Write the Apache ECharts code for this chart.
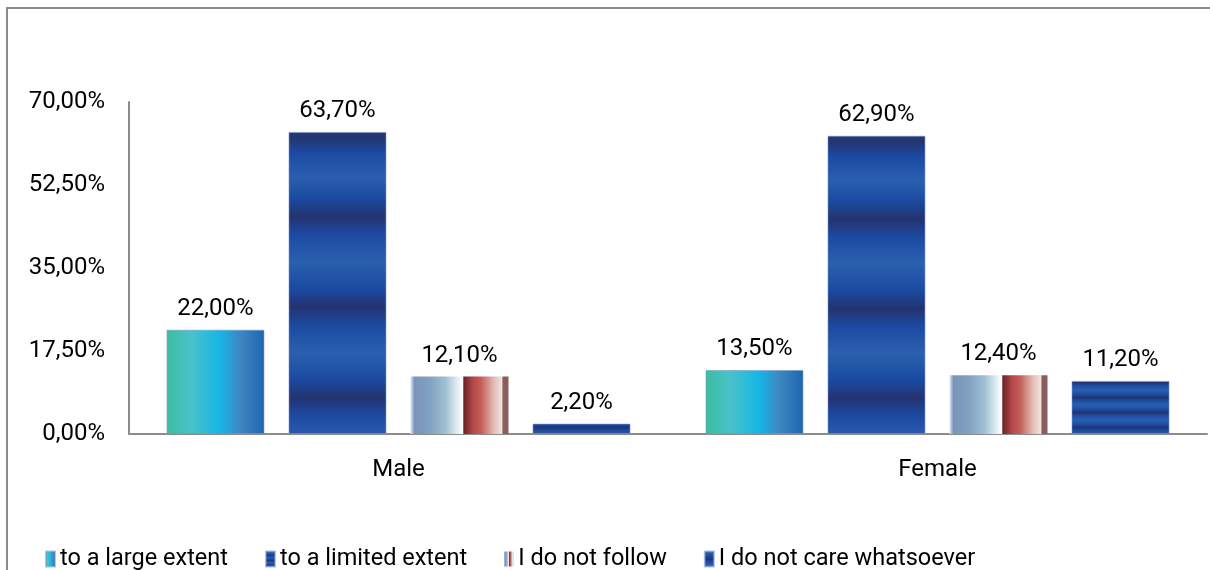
<!DOCTYPE html>
<html>
<head>
<meta charset="utf-8">
<script src="https://cdn.jsdelivr.net/npm/echarts@6/dist/echarts.min.js"></script>
<style>
  html, body { margin: 0; padding: 0; background: #fff; }
  #chart { width: 1210px; height: 570px; }
</style>
</head>
<body>
<div id="chart"></div>
<script>
const categories = ["Male", "Female"]
const seriesNames = ["to a large extent", "to a limited extent", "I do not follow", "I do not care whatsoever"]
const largeExtent = [22.0, 13.5]
const limitedExtent = [63.7, 62.9]
const notFollow = [12.1, 12.4]
const notCare = [2.2, 11.2]
const yTicks = [0, 17.5, 35, 52.5, 70]

const fmt = (v) => v.toFixed(2).replace(".", ",") + "%"

const hGrad = (stops) => new echarts.graphic.LinearGradient(0, 0, 1, 0, stops.map(([o, c]) => ({ offset: o, color: c })))
const vGrad = (stops) => new echarts.graphic.LinearGradient(0, 0, 0, 1, stops.map(([o, c]) => ({ offset: o, color: c })))

const tealFill = hGrad([
  [0, "#3bbd9f"], [0.25, "#4ac2ca"], [0.55, "#16b6e6"], [0.75, "#3f86c2"], [1, "#1d66b0"],
])

const bandFill = vGrad([
  [0, "#253a78"], [0.02, "#243570"], [0.07, "#1c4aa2"], [0.15, "#2a5fae"], [0.22, "#1a4aa0"],
  [0.28, "#243370"], [0.34, "#1c4aa2"], [0.43, "#2a60ae"], [0.52, "#1a4aa0"],
  [0.58, "#243370"], [0.64, "#1c4aa2"], [0.73, "#2a60ae"], [0.82, "#1a4aa0"],
  [0.88, "#243370"], [0.94, "#1c4aa2"], [1, "#2a5aac"],
])

const splitFill = hGrad([
  [0, "#dce9f3"], [0.04, "#7a94ba"], [0.2, "#80a2c0"], [0.36, "#a0c0d2"], [0.5, "#eef6fa"],
  [0.53, "#ffffff"], [0.545, "#6c2428"], [0.64, "#b64848"], [0.72, "#c45e5a"], [0.85, "#e2bcb4"],
  [0.93, "#f2e2de"], [0.945, "#8a5e5c"], [1, "#8a5e5c"],
])

// thin horizontal stripes
const stripeCanvas = document.createElement("canvas")
stripeCanvas.width = 4
stripeCanvas.height = 15
const sctx = stripeCanvas.getContext("2d")
const sg = sctx.createLinearGradient(0, 0, 0, 15)
sg.addColorStop(0, "#2a60b0")
sg.addColorStop(0.3, "#1c4ba2")
sg.addColorStop(0.5, "#233570")
sg.addColorStop(0.7, "#1c4ba2")
sg.addColorStop(1, "#2a60b0")
sctx.fillStyle = sg
sctx.fillRect(0, 0, 4, 15)
const stripeFill = { image: stripeCanvas, repeat: "repeat" }

const fills = [tealFill, bandFill, splitFill, stripeFill]
const values = [largeExtent, limitedExtent, notFollow, notCare]

const chart = echarts.init(document.getElementById("chart"))

chart.setOption({
  animation: false,
  textStyle: { fontFamily: "Roboto" },
  graphic: [
    {
      type: "rect",
      shape: { x: 7, y: 8, width: 1300, height: 700 },
      style: { fill: "none", stroke: "#8c8c8c", lineWidth: 2 },
      silent: true,
    },
  ],
  legend: {
    top: 542,
    left: 40,
    itemWidth: 9,
    itemHeight: 15,
    itemGap: 37,
    icon: "rect",
    textStyle: { fontSize: 23.5, color: "#000", fontFamily: "Roboto" },
    data: seriesNames,
  },
  grid: {
    left: 129,
    right: 3,
    top: 102,
    bottom: 136,
    containLabel: false,
  },
  xAxis: {
    type: "category",
    data: categories,
    axisLine: { lineStyle: { color: "#8c8c8c", width: 2 } },
    axisTick: { show: false },
    axisLabel: { fontSize: 24, color: "#000", margin: 24 },
  },
  yAxis: {
    type: "value",
    min: yTicks[0],
    max: yTicks[yTicks.length - 1],
    interval: yTicks[1] - yTicks[0],
    axisLine: { show: true, lineStyle: { color: "#8c8c8c", width: 2 } },
    axisTick: { show: false },
    splitLine: { show: false },
    axisLabel: { fontSize: 24, color: "#000", margin: 24, formatter: fmt },
  },
  series: seriesNames.map((name, i) => ({
    name,
    type: "bar",
    data: values[i],
    barWidth: 98,
    barGap: "24.5%",
    itemStyle: {
      color: fills[i],
      borderColor: "rgba(120,150,205,0.55)",
      borderWidth: i === 2 ? 0 : 1,
    },
    label: {
      show: true,
      position: "top",
      distance: 9,
      fontSize: 24,
      color: "#000",
      formatter: (p) => fmt(p.value),
    },
  })),
})
</script>
</body>
</html>
